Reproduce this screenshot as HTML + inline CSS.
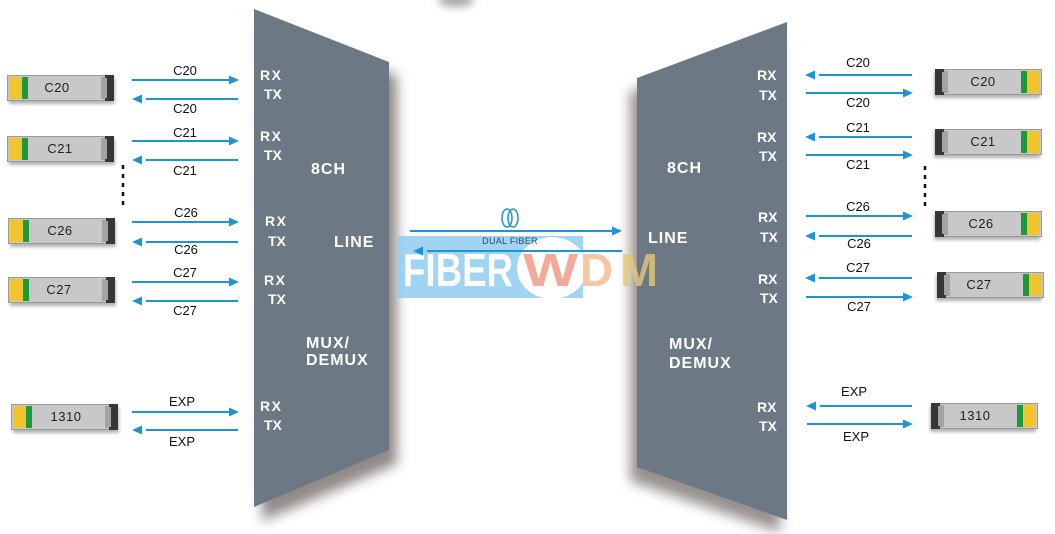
<!DOCTYPE html>
<html><head><meta charset="utf-8"><style>
html,body{margin:0;padding:0;background:#fff;}
svg{display:block;}
text{font-family:"Liberation Sans",Arial,sans-serif;}
.lab{font-size:13px;fill:#111;text-anchor:middle;}
.rt{font-size:14px;font-weight:bold;fill:#fff;}
.big{font-size:16px;font-weight:bold;fill:#fff;letter-spacing:1px;}
.tl{font-size:13px;fill:#222;text-anchor:middle;letter-spacing:0.5px;}
</style></head><body>
<svg width="1055" height="534" viewBox="0 0 1055 534" xmlns="http://www.w3.org/2000/svg">
<defs>
<filter id="sh" x="-30%" y="-30%" width="160%" height="160%"><feGaussianBlur stdDeviation="6"/></filter>
<filter id="sh2" x="-30%" y="-30%" width="160%" height="160%"><feGaussianBlur stdDeviation="1.5"/></filter>
<filter id="sh3" x="-50%" y="-50%" width="200%" height="200%"><feGaussianBlur stdDeviation="4"/></filter>
<g id="xcv">
<rect x="2" y="3" width="106" height="26" fill="#000" opacity="0.3" filter="url(#sh2)"/>
<rect x="0.5" y="0.5" width="100" height="25" fill="#c8c8c8" stroke="#9a9a9a"/>
<rect x="2" y="2" width="13" height="22" fill="#f2c42e"/>
<rect x="15" y="2" width="6" height="22" fill="#1c9a3b"/>
<rect x="94" y="2" width="6" height="22" fill="#a3a3a3"/>
<rect x="100" y="0" width="7" height="26" fill="#363636"/>
<rect x="98" y="0" width="3" height="3" fill="#363636"/>
<rect x="98" y="23" width="3" height="3" fill="#363636"/>
</g>
</defs>
<rect width="1055" height="534" fill="#fff"/>

<!-- shadows -->
<ellipse cx="456" cy="0" rx="18" ry="7" fill="#aaa" filter="url(#sh3)"/>
<polygon points="262,23 397,76 397,464 262,521" fill="#6a6460" opacity="0.75" filter="url(#sh)"/>
<polygon points="630,92 780,36 780,532 630,481" fill="#6a6460" opacity="0.7" filter="url(#sh)"/>

<!-- trapezoids -->
<polygon points="254,9 389,62 389,450 254,507" fill="#6c7883"/>
<polygon points="637,78 787,22 787,520 637,467" fill="#6c7883"/>

<!-- watermark -->
<rect x="397" y="236" width="186" height="62" fill="#8fcdf0" opacity="0.85"/>
<ellipse cx="552" cy="268" rx="35" ry="31" fill="#fff"/>
<text x="403" y="286" font-size="46" font-weight="bold" fill="#fff" textLength="110" lengthAdjust="spacingAndGlyphs">FIBER</text>
<text x="523" y="286" font-size="46" font-weight="bold" fill="#f3a08e" opacity="0.9" textLength="55" lengthAdjust="spacingAndGlyphs">W</text>
<text x="580" y="286" font-size="46" font-weight="bold" fill="#f6c29a" opacity="0.9" textLength="33" lengthAdjust="spacingAndGlyphs">D</text>
<text x="620" y="286" font-size="46" font-weight="bold" fill="#e6c873" opacity="0.8" textLength="38" lengthAdjust="spacingAndGlyphs">M</text>

<!-- arrows -->
<g stroke="#1b95d3" stroke-width="2" fill="none">
<line x1="132" y1="80" x2="231" y2="80"/><line x1="146" y1="99" x2="238" y2="99"/>
<line x1="132" y1="141" x2="231" y2="141"/><line x1="146" y1="160" x2="238" y2="160"/>
<line x1="132" y1="222" x2="231" y2="222"/><line x1="146" y1="242" x2="238" y2="242"/>
<line x1="132" y1="282" x2="231" y2="282"/><line x1="146" y1="301" x2="238" y2="301"/>
<line x1="132" y1="412" x2="231" y2="412"/><line x1="146" y1="430" x2="238" y2="430"/>
<line x1="410" y1="231" x2="614" y2="231"/><line x1="427" y1="251" x2="622" y2="251"/>
<line x1="819" y1="75" x2="912" y2="75"/><line x1="806" y1="93" x2="905" y2="93"/>
<line x1="819" y1="137" x2="912" y2="137"/><line x1="806" y1="155" x2="905" y2="155"/>
<line x1="806" y1="216" x2="905" y2="216"/><line x1="819" y1="236" x2="912" y2="236"/>
<line x1="819" y1="278" x2="912" y2="278"/><line x1="806" y1="297" x2="905" y2="297"/>
<line x1="820" y1="406" x2="912" y2="406"/><line x1="807" y1="424" x2="905" y2="424"/>
</g>
<g fill="#1b95d3">
<polygon points="239,80 229,75.5 229,84.5"/><polygon points="132,99 142,94.5 142,103.5"/>
<polygon points="239,141 229,136.5 229,145.5"/><polygon points="132,160 142,155.5 142,164.5"/>
<polygon points="239,222 229,217.5 229,226.5"/><polygon points="132,242 142,237.5 142,246.5"/>
<polygon points="239,282 229,277.5 229,286.5"/><polygon points="132,301 142,296.5 142,305.5"/>
<polygon points="239,412 229,407.5 229,416.5"/><polygon points="132,430 142,425.5 142,434.5"/>
<polygon points="622,231 612,226.5 612,235.5"/><polygon points="413,251 423,246.5 423,255.5"/>
<polygon points="805,75 815,70.5 815,79.5"/><polygon points="913,93 903,88.5 903,97.5"/>
<polygon points="805,137 815,132.5 815,141.5"/><polygon points="913,155 903,150.5 903,159.5"/>
<polygon points="913,216 903,211.5 903,220.5"/><polygon points="805,236 815,231.5 815,240.5"/>
<polygon points="805,278 815,273.5 815,282.5"/><polygon points="913,297 903,292.5 903,301.5"/>
<polygon points="806,406 816,401.5 816,410.5"/><polygon points="913,424 903,419.5 903,428.5"/>
</g>

<!-- coil + dual fiber -->
<ellipse cx="507" cy="218" rx="5" ry="9" fill="none" stroke="#1b95d3" stroke-width="1.5"/>
<ellipse cx="513" cy="218" rx="5" ry="9" fill="none" stroke="#1b95d3" stroke-width="1.5"/>
<text x="510" y="244" font-size="9" fill="#2b4a66" text-anchor="middle" letter-spacing="0.3">DUAL FIBER</text>

<!-- dotted lines -->
<line x1="123" y1="165" x2="123" y2="205" stroke="#111" stroke-width="2.5" stroke-dasharray="4,5"/>
<line x1="925" y1="166" x2="925" y2="207" stroke="#111" stroke-width="2.5" stroke-dasharray="4,5"/>

<!-- arrow labels left -->
<text class="lab" x="185" y="75">C20</text><text class="lab" x="185" y="113">C20</text>
<text class="lab" x="185" y="137">C21</text><text class="lab" x="185" y="175">C21</text>
<text class="lab" x="186" y="217">C26</text><text class="lab" x="186" y="254">C26</text>
<text class="lab" x="185" y="277">C27</text><text class="lab" x="185" y="315">C27</text>
<text class="lab" x="182" y="406">EXP</text><text class="lab" x="182" y="446">EXP</text>
<!-- arrow labels right -->
<text class="lab" x="858" y="67">C20</text><text class="lab" x="858" y="107">C20</text>
<text class="lab" x="858" y="132">C21</text><text class="lab" x="858" y="169">C21</text>
<text class="lab" x="858" y="211">C26</text><text class="lab" x="859" y="248">C26</text>
<text class="lab" x="858" y="272">C27</text><text class="lab" x="859" y="311">C27</text>
<text class="lab" x="854" y="396">EXP</text><text class="lab" x="856" y="441">EXP</text>

<!-- RX/TX -->
<text class="rt" x="260" y="80" letter-spacing="1.5">RX</text><text class="rt" x="264" y="99">TX</text>
<text class="rt" x="260" y="141" letter-spacing="1.5">RX</text><text class="rt" x="264" y="160">TX</text>
<text class="rt" x="265" y="226" letter-spacing="1.5">RX</text><text class="rt" x="268" y="246">TX</text>
<text class="rt" x="264" y="285" letter-spacing="1.5">RX</text><text class="rt" x="268" y="304">TX</text>
<text class="rt" x="260" y="411" letter-spacing="1.5">RX</text><text class="rt" x="264" y="430">TX</text>
<text class="rt" x="757" y="80">RX</text><text class="rt" x="759" y="100">TX</text>
<text class="rt" x="757" y="142">RX</text><text class="rt" x="759" y="161">TX</text>
<text class="rt" x="758" y="222">RX</text><text class="rt" x="760" y="242">TX</text>
<text class="rt" x="758" y="284">RX</text><text class="rt" x="760" y="303">TX</text>
<text class="rt" x="757" y="412">RX</text><text class="rt" x="759" y="431">TX</text>

<!-- big labels -->
<text class="big" x="311" y="174">8CH</text>
<text class="big" x="334" y="247">LINE</text>
<text class="big" x="306" y="348">MUX/</text>
<text class="big" x="306" y="365">DEMUX</text>
<text class="big" x="667" y="173">8CH</text>
<text class="big" x="648" y="243">LINE</text>
<text class="big" x="669" y="349">MUX/</text>
<text class="big" x="669" y="368">DEMUX</text>

<!-- transceivers left -->
<use href="#xcv" x="7" y="75"/><text class="tl" x="57" y="92">C20</text>
<use href="#xcv" x="7" y="136"/><text class="tl" x="60" y="153">C21</text>
<use href="#xcv" x="8" y="218"/><text class="tl" x="60" y="235">C26</text>
<use href="#xcv" x="8" y="277"/><text class="tl" x="59" y="294">C27</text>
<use href="#xcv" x="11" y="404"/><text class="tl" x="66" y="421">1310</text>
<!-- transceivers right (mirrored) -->
<use href="#xcv" transform="translate(1042,69) scale(-1,1)"/><text class="tl" x="983" y="86">C20</text>
<use href="#xcv" transform="translate(1042,129) scale(-1,1)"/><text class="tl" x="983" y="146">C21</text>
<use href="#xcv" transform="translate(1042,211) scale(-1,1)"/><text class="tl" x="981" y="228">C26</text>
<use href="#xcv" transform="translate(1044,272) scale(-1,1)"/><text class="tl" x="979" y="289">C27</text>
<use href="#xcv" transform="translate(1038,403) scale(-1,1)"/><text class="tl" x="975" y="420">1310</text>
</svg>
</body></html>
